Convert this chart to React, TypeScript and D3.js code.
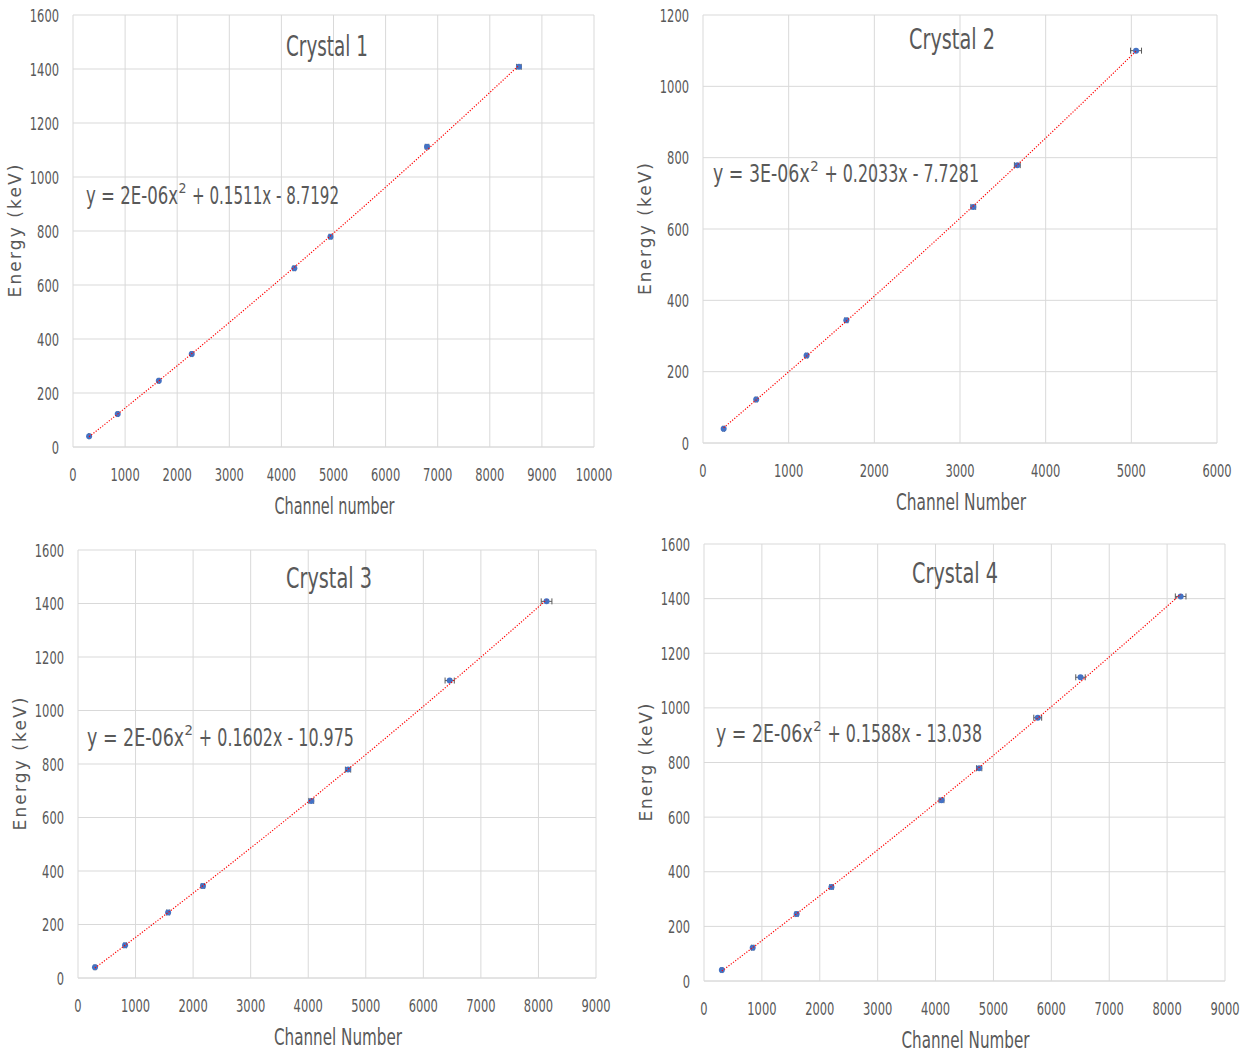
import React from "react";
import * as d3 from "d3";

// ---------- data ----------
const c1Channel = [309, 858, 1647, 2279, 4248, 4942, 6795, 8559];
const c1Energy = [40, 122, 245, 344, 662, 779, 1112, 1408];
const c1Err = [12, 14, 16, 18, 24, 26, 34, 44];

const c2Channel = [241, 621, 1209, 1673, 3155, 3669, 5055];
const c2Energy = [40, 122, 245, 344, 662, 779, 1100];
const c2Err = [10, 12, 14, 18, 28, 34, 64];

const c3Channel = [295, 818, 1566, 2171, 4053, 4692, 6458, 8141];
const c3Energy = [40, 122, 245, 344, 662, 779, 1112, 1408];
const c3Err = [16, 22, 26, 30, 42, 46, 80, 93];

const c4Channel = [308, 841, 1600, 2202, 4103, 4753, 5765, 6504, 8234];
const c4Energy = [40, 122, 245, 344, 662, 779, 964, 1112, 1408];
const c4Err = [16, 22, 26, 30, 42, 46, 68, 82, 92];

const xTicks10k = [0, 1000, 2000, 3000, 4000, 5000, 6000, 7000, 8000, 9000, 10000];
const xTicks6k = [0, 1000, 2000, 3000, 4000, 5000, 6000];
const xTicks9k = [0, 1000, 2000, 3000, 4000, 5000, 6000, 7000, 8000, 9000];
const yTicks1600 = [0, 200, 400, 600, 800, 1000, 1200, 1400, 1600];
const yTicks1200 = [0, 200, 400, 600, 800, 1000, 1200];

const titles = ["Crystal 1", "Crystal 2", "Crystal 3", "Crystal 4"];
const eqPre = ["y = 2E-06x", "y = 3E-06x", "y = 2E-06x", "y = 2E-06x"];
const eqSup = ["2", "2", "2", "2"];
const eqPost = ["+ 0.1511x - 8.7192", "+ 0.2033x - 7.7281", "+ 0.1602x - 10.975", "+ 0.1588x - 13.038"];
const xTitles = ["Channel number", "Channel Number", "Channel Number", "Channel Number"];
const yTitles = ["Energy (keV)", "Energy (keV)", "Energy (keV)", "Energ (keV)"];

// ---------- layout ----------
const panels = [
  { ch: c1Channel, en: c1Energy, err: c1Err, xt: xTicks10k, yt: yTicks1600, box: { l: 73, r: 594, t: 15, b: 447 },
    eq: { x: 86, y: 196, w: 253 }, title: { cx: 327, cy: 46, w: 82 }, xTitleW: 120, yTitleW: 133 },
  { ch: c2Channel, en: c2Energy, err: c2Err, xt: xTicks6k, yt: yTicks1200, box: { l: 703, r: 1217, t: 15, b: 443 },
    eq: { x: 713, y: 174, w: 266 }, title: { cx: 952, cy: 39, w: 86 }, xTitleW: 130, yTitleW: 132 },
  { ch: c3Channel, en: c3Energy, err: c3Err, xt: xTicks9k, yt: yTicks1600, box: { l: 78, r: 596, t: 550, b: 978 },
    eq: { x: 87, y: 738, w: 267 }, title: { cx: 329, cy: 578, w: 86 }, xTitleW: 128, yTitleW: 133 },
  { ch: c4Channel, en: c4Energy, err: c4Err, xt: xTicks9k, yt: yTicks1600, box: { l: 704, r: 1225, t: 544, b: 981 },
    eq: { x: 716, y: 734, w: 266 }, title: { cx: 955, cy: 573, w: 86 }, xTitleW: 128, yTitleW: 118 },
];

const FONT = "'DejaVu Sans', Verdana, sans-serif";
const TXT = "#595959";
const GRID = "#d9d9d9";
const DIGIT_W = 7.3;

function quadFit(xs: number[], ys: number[]) {
  let s0 = 0, s1 = 0, s2 = 0, s3 = 0, s4 = 0, t0 = 0, t1 = 0, t2 = 0;
  xs.forEach((x, i) => {
    const y = ys[i];
    s0 += 1; s1 += x; s2 += x * x; s3 += x * x * x; s4 += x * x * x * x;
    t0 += y; t1 += x * y; t2 += x * x * y;
  });
  const M = [
    [s4, s3, s2, t2],
    [s3, s2, s1, t1],
    [s2, s1, s0, t0],
  ];
  for (let i = 0; i < 3; i++) {
    for (let j = i + 1; j < 3; j++) {
      const f = M[j][i] / M[i][i];
      for (let k = i; k < 4; k++) M[j][k] -= f * M[i][k];
    }
  }
  const res = [0, 0, 0];
  for (let i = 2; i >= 0; i--) {
    let s = M[i][3];
    for (let k = i + 1; k < 3; k++) s -= M[i][k] * res[k];
    res[i] = s / M[i][i];
  }
  return res;
}

function WText({ x, y, w, size, children, spacing }: { x: number; y: number; w: number; size: number; children: string; spacing?: boolean }) {
  return (
    <text
      x={x}
      y={y}
      textLength={w}
      lengthAdjust={spacing ? "spacing" : "spacingAndGlyphs"}
      dominantBaseline="central"
      fontFamily={FONT}
      fontSize={size}
      fill={TXT}
    >
      {children}
    </text>
  );
}

function Panel({ p, idx }: { p: (typeof panels)[number]; idx: number }) {
  const { box } = p;
  const x = d3.scaleLinear().domain([0, p.xt[p.xt.length - 1]]).range([box.l, box.r]);
  const y = d3.scaleLinear().domain([0, p.yt[p.yt.length - 1]]).range([box.b, box.t]);
  const [a, b, c] = quadFit(p.ch, p.en);
  const x0 = d3.min(p.ch)!;
  const x1 = d3.max(p.ch)!;
  const samples = d3.range(0, 101).map((i) => x0 + ((x1 - x0) * i) / 100);
  const line = d3
    .line<number>()
    .x((v) => x(v))
    .y((v) => y(a * v * v + b * v + c));
  const cx = (box.l + box.r) / 2;
  const cy = (box.t + box.b) / 2;
  const k = p.eq.w / 253;
  const eqW1 = 92 * k;
  const eqW2 = 8 * k;
  const eqGap = 6 * k;
  const eqW3 = p.eq.w - eqW1 - eqW2 - eqGap;
  const yTx = box.l - 58;
  return (
    <g>
      {p.yt.map((t) => (
        <line key={"gy" + t} x1={box.l} x2={box.r} y1={y(t)} y2={y(t)} stroke={t === 0 ? "#c8c8c8" : GRID} strokeWidth={1} />
      ))}
      {p.xt.map((t) => (
        <line key={"gx" + t} x1={x(t)} x2={x(t)} y1={box.t} y2={box.b} stroke={GRID} strokeWidth={1} />
      ))}
      {p.yt.map((t) => {
        const w = String(t).length * DIGIT_W;
        return (
          <WText key={"ly" + t} x={box.l - 14 - w} y={y(t)} w={w} size={18.5}>
            {String(t)}
          </WText>
        );
      })}
      {p.xt.map((t) => {
        const w = String(t).length * DIGIT_W;
        return (
          <WText key={"lx" + t} x={x(t) - w / 2} y={box.b + 27} w={w} size={18.5}>
            {String(t)}
          </WText>
        );
      })}
      <WText x={cx + 1 - p.xTitleW / 2} y={box.b + 59} w={p.xTitleW} size={23}>
        {xTitles[idx]}
      </WText>
      <g transform={`translate(${yTx},${cy}) rotate(-90)`}>
        <WText x={-p.yTitleW / 2} y={0} w={p.yTitleW} size={17} spacing>
          {yTitles[idx]}
        </WText>
      </g>
      <WText x={p.title.cx - p.title.w / 2} y={p.title.cy} w={p.title.w} size={29}>
        {titles[idx]}
      </WText>
      <WText x={p.eq.x} y={p.eq.y} w={eqW1} size={24}>
        {eqPre[idx]}
      </WText>
      <WText x={p.eq.x + eqW1 + 0.5} y={p.eq.y - 8} w={eqW2} size={14}>
        {eqSup[idx]}
      </WText>
      <WText x={p.eq.x + eqW1 + eqW2 + eqGap} y={p.eq.y} w={eqW3} size={24}>
        {eqPost[idx]}
      </WText>
      {p.ch.map((v, i) => (
        <g key={"e" + i} stroke="#595959" strokeWidth={1}>
          <line x1={x(v - p.err[i])} x2={x(v + p.err[i])} y1={y(p.en[i])} y2={y(p.en[i])} />
          <line x1={x(v - p.err[i])} x2={x(v - p.err[i])} y1={y(p.en[i]) - 3} y2={y(p.en[i]) + 3} />
          <line x1={x(v + p.err[i])} x2={x(v + p.err[i])} y1={y(p.en[i]) - 3} y2={y(p.en[i]) + 3} />
        </g>
      ))}
      {p.ch.map((v, i) => (
        <circle key={"p" + i} cx={x(v)} cy={y(p.en[i])} r={3} fill="#4472C4" />
      ))}
      <path d={line(samples) || ""} fill="none" stroke="#ff0000" strokeWidth={1.2} strokeDasharray="1.2,1.6" />
    </g>
  );
}

export default function App() {
  return (
    <svg width={1252} height={1055} style={{ display: "block", position: "absolute", left: 0, top: 0 }}>
      <rect x={0} y={0} width={1252} height={1055} fill="#ffffff" />
      {panels.map((p, i) => (
        <Panel key={i} p={p} idx={i} />
      ))}
    </svg>
  );
}
